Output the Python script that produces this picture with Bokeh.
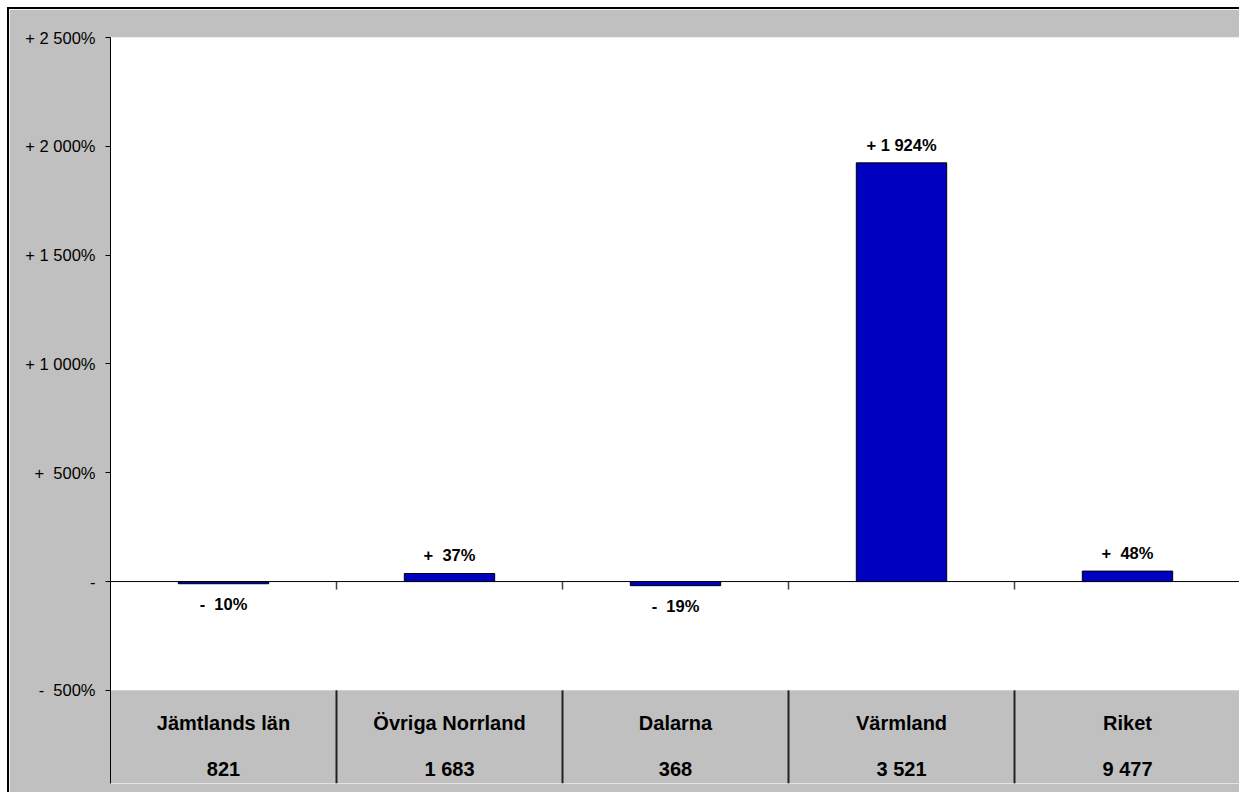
from bokeh.plotting import figure
from bokeh.models import Range1d, FixedTicker, Span, ColumnDataSource
from bokeh.core.properties import value
from bokeh.embed import file_html
from bokeh.resources import INLINE

# ---- data ----
categories = ["Jämtlands län", "Övriga Norrland", "Dalarna", "Värmland", "Riket"]
change_pct = [-10, 37, -19, 1924, 48]
counts = ["821", "1 683", "368", "3 521", "9 477"]
tick_values = [-500, 0, 500, 1000, 1500, 2000, 2500]
tick_labels = ["-\u00a0\u00a0500%", "-", "+\u00a0\u00a0500%", "+ 1 000%", "+ 1 500%", "+ 2 000%", "+ 2 500%"]

NB = "\u00a0"


def fmt(v):
    sign = "+" if v >= 0 else "-"
    a = abs(v)
    if a < 1000:
        return f"{sign}{NB}{NB}{a}%"
    return f"{sign} {a // 1000} {a % 1000:03d}%"


FONT = "Liberation Sans"
Y_MIN = -928
n = len(categories)
xs = [i + 0.5 for i in range(n)]

p = figure(width=1232, height=785,
           x_range=Range1d(0, n), y_range=Range1d(Y_MIN, 2500),
           output_backend="svg", toolbar_location=None,
           min_border_left=101, min_border_right=1,
           min_border_top=28, min_border_bottom=11, min_border=0,
           background_fill_color="white", border_fill_color="#C0C0C0",
           outline_line_color=None)
p.styles = {"margin-left": "7px", "margin-top": "7px",
            "border-left": "2px solid black", "border-top": "2px solid black"}

p.grid.visible = False
p.xaxis.visible = False

ya = p.yaxis[0]
ya.ticker = FixedTicker(ticks=tick_values)
ya.major_label_overrides = {v: s for v, s in zip(tick_values, tick_labels)}
ya.major_label_text_font = FONT
ya.major_label_text_font_size = "16.5px"
ya.major_label_text_color = "black"
ya.axis_line_color = "black"
ya.axis_line_width = 1
ya.major_tick_line_color = "black"
ya.major_tick_in = 0
ya.major_tick_out = 5
ya.minor_tick_line_color = None
ya.major_label_standoff = 10

# table background below the plot area
p.quad(left=[0], right=[n], bottom=[Y_MIN], top=[tick_values[0]],
       fill_color="#C0C0C0", line_color=None)

# table separators
sep = list(range(1, n + 1))
p.segment(x0=sep, y0=[tick_values[0]] * len(sep), x1=sep, y1=[Y_MIN] * len(sep),
          line_color="#222222", line_width=2)

# small category ticks under zero line
p.segment(x0=sep[:-1], y0=[0] * (n - 1), x1=sep[:-1], y1=[-37] * (n - 1),
          line_color="#444444", line_width=1.5)

# zero line
p.add_layout(Span(location=0, dimension="width", line_color="black", line_width=1))

src = ColumnDataSource(dict(x=xs, v=change_pct, lab=[fmt(v) for v in change_pct]))
p.vbar(x="x", top="v", bottom=0, width=0.4, source=src,
       fill_color="#0000C0", line_color="black", line_width=1)

pos = ColumnDataSource(dict(x=[x for x, v in zip(xs, change_pct) if v >= 0],
                            y=[v for v in change_pct if v >= 0],
                            lab=[fmt(v) for v in change_pct if v >= 0]))
neg = ColumnDataSource(dict(x=[x for x, v in zip(xs, change_pct) if v < 0],
                            y=[v for v in change_pct if v < 0],
                            lab=[fmt(v) for v in change_pct if v < 0]))
for s, off in ((pos, -18), (neg, 20)):
    p.text(x="x", y="y", text="lab", source=s, y_offset=off,
           text_font=value(FONT), text_font_size="16.5px", text_font_style="bold",
           text_align="center", text_baseline="middle", text_color="black")

tbl = ColumnDataSource(dict(x=xs, y=[tick_values[0]] * n, cat=categories, cnt=counts))
p.text(x="x", y="y", text="cat", source=tbl, y_offset=33,
       text_font=value(FONT), text_font_size="20px", text_font_style="bold",
       text_align="center", text_baseline="middle", text_color="black")
p.text(x="x", y="y", text="cnt", source=tbl, y_offset=79,
       text_font=value(FONT), text_font_size="20px", text_font_style="bold",
       text_align="center", text_baseline="middle", text_color="black")

open("out.html", "w").write(file_html(p, INLINE))
